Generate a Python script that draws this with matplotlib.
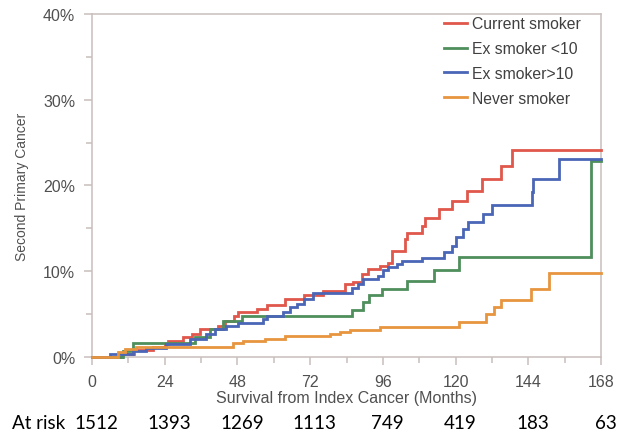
import matplotlib
matplotlib.use("Agg")
import matplotlib.pyplot as plt
from matplotlib.ticker import FixedLocator, FuncFormatter
import matplotlib.transforms as mtransforms

# Cumulative incidence of second primary cancer (%), step changes
current_t = [0, 10, 14, 20, 24, 25, 30, 33, 35.6, 41.6, 44, 47, 48.3, 54.3, 57.6,
             63.7, 70, 76.3, 83.5, 86, 89, 91, 95, 97.8, 98.9, 103.3, 103.9,
             108.8, 110, 114.6, 118.7, 123.7, 128.8, 135, 138.6]
current_y = [0, 0.4, 0.8, 1.2, 1.5, 1.9, 2.3, 2.7, 3.3, 3.65, 4.2, 4.8, 5.3, 5.6, 6.1,
             6.8, 7.2, 7.7, 8.5, 8.8, 9.7, 10.3, 10.6, 11.0, 12.4, 13.8, 14.5,
             15.3, 16.2, 17.2, 18.2, 19.4, 20.8, 22.3, 24.1]

ex_lt10_t = [0, 10.3, 13.6, 34, 38.9, 43.3, 49.4, 85.7, 89.5, 91.5, 95.6, 103.8,
             112.9, 121, 164.5]
ex_lt10_y = [0, 0.7, 1.6, 2.3, 3.3, 4.2, 4.8, 5.5, 6.4, 7.2, 7.9, 8.9,
             10.1, 11.7, 22.9]

ex_gt10_t = [0, 6, 13.6, 18, 24.6, 32.3, 37.8, 40.6, 44.4, 48.3, 56.5, 57.6, 63,
             65.5, 67.6, 70, 73, 85.7, 87.9, 89.5, 94.5, 96.1, 97.8, 100.5, 102.2,
             108.8, 116, 118.7, 120, 122.5, 124, 128.9, 131.9, 145, 145.6, 154]
ex_gt10_y = [0, 0.35, 0.7, 1.1, 1.5, 2.1, 2.7, 3.3, 3.65, 4.0, 4.4, 4.8, 5.2,
             5.8, 6.2, 6.8, 7.5, 8.1, 8.5, 9.1, 9.5, 10.1, 10.5, 10.9, 11.2,
             11.6, 12.3, 13.0, 14.0, 14.9, 15.7, 16.7, 17.7, 19.2, 20.8, 23.1]

never_t = [0, 8.7, 10.9, 14.7, 46.6, 50, 57, 63.7, 78.5, 81.8, 85.1, 95, 121,
           130, 132.7, 134.9, 144.9, 150.9]
never_y = [0, 0.55, 0.9, 1.2, 1.6, 1.9, 2.1, 2.5, 2.7, 2.9, 3.2, 3.5, 4.1,
           5.0, 5.8, 6.65, 7.9, 9.8]

series = [
    ("Current smoker", current_t, current_y, "#e0574c"),
    ("Ex smoker <10", ex_lt10_t, ex_lt10_y, "#4e8f5c"),
    ("Ex smoker>10", ex_gt10_t, ex_gt10_y, "#4a66b6"),
    ("Never smoker", never_t, never_y, "#e8953f"),
]

risk_months = [0, 24, 48, 72, 96, 120, 144, 168]
at_risk = [1512, 1393, 1269, 1113, 749, 419, 183, 63]

X_END = 168
SPINE = "#c9bfbd"
TEXT = "#505050"

plt.rcParams["font.family"] = ["Liberation Sans", "DejaVu Sans"]

fig = plt.figure(figsize=(6.25, 4.39), dpi=100)
ax = fig.add_axes([0.147, 0.1845, 0.815, 0.7815])

for label, t, y, color in series:
    xs = list(t) + [X_END]
    ys = list(y) + [y[-1]]
    ax.step(xs, ys, where="post", color=color, lw=2.0, label=label,
            solid_joinstyle="miter", clip_on=False, zorder=3)

ax.set_xlim(0, X_END)
ax.set_ylim(0, 40)

ax.xaxis.set_major_locator(FixedLocator(risk_months))
ax.xaxis.set_minor_locator(FixedLocator(range(12, X_END, 24)))
ax.yaxis.set_major_locator(FixedLocator([0, 10, 20, 30, 40]))
ax.yaxis.set_minor_locator(FixedLocator([5, 15, 25, 35]))
ax.yaxis.set_major_formatter(FuncFormatter(lambda v, p: f"{v:.0f}%"))

for side in ax.spines.values():
    side.set_color(SPINE)
    side.set_linewidth(1.1)

ax.tick_params(which="major", direction="out", length=6, width=1.1,
               color=SPINE, labelcolor=TEXT, labelsize=11.5)
ax.tick_params(axis="x", which="major", pad=6)
ax.tick_params(axis="y", which="major", pad=6)
ax.tick_params(which="minor", direction="out", length=4, width=1.1, color=SPINE)

ax.set_xlabel("Survival from Index Cancer (Months)", color=TEXT, fontsize=11.5, labelpad=1)
ax.set_ylabel("Second Primary Cancer", color=TEXT, fontsize=10, labelpad=10)

leg = ax.legend(loc="upper left", bbox_to_anchor=(0.672, 1.02), frameon=False,
                fontsize=11.3, handlelength=1.5, handletextpad=0.3,
                labelspacing=0.62, borderpad=0.1)
for txt in leg.get_texts():
    txt.set_color("#404040")

# at-risk row below the axis
trans = mtransforms.blended_transform_factory(ax.transData, fig.transFigure)
fig.text(0.019, 0.022, "At risk", fontsize=13.5, family=["Lato", "DejaVu Sans"],
         color="black", va="baseline")
for m, n in zip(risk_months, at_risk):
    ax.text(m + 1.5, 0.022, str(n), transform=trans, ha="center", va="baseline",
            fontsize=13.5, family=["Lato", "DejaVu Sans"], color="black",
            clip_on=False)

fig.savefig("out.png", dpi=100)
